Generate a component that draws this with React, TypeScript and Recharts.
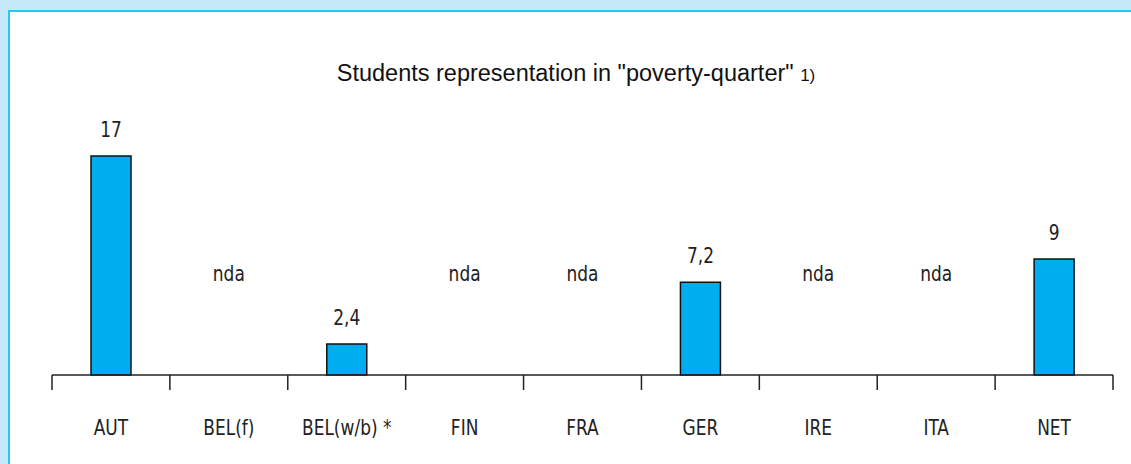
import { Bar, BarChart, LabelList, XAxis, YAxis } from "recharts"

const countries = ["AUT", "BEL(f)", "BEL(w/b) *", "FIN", "FRA", "GER", "IRE", "ITA", "NET"]
const shares: (number | null)[] = [17, null, 2.4, null, null, 7.2, null, null, 9]

const data = countries.map((country, i) => ({ country, share: shares[i] }))

const NARROW = "'Liberation Sans Narrow', 'DejaVu Sans Condensed', 'Roboto', sans-serif"
const INK = "#222"
const SQUEEZE = 0.9

function NarrowText({ x, y, children }: { x: number; y: number; children: React.ReactNode }) {
  return (
    <text
      transform={`translate(${x},${y}) scale(${SQUEEZE},1)`}
      textAnchor="middle"
      fill={INK}
      fontFamily={NARROW}
      fontSize={21}
    >
      {children}
    </text>
  )
}

function CountryTick({
  x,
  y,
  payload,
}: {
  x?: number
  y?: number
  payload?: { value: string; index: number; offset?: number }
}) {
  if (x == null || y == null || !payload) return null
  const half = payload.offset || 1061 / 18
  const missing = shares[payload.index] == null
  const last = payload.index === countries.length - 1
  return (
    <g>
      <line x1={x - half} x2={x - half} y1={y} y2={y + 15} stroke={INK} strokeWidth={1.5} />
      {last && <line x1={x + half} x2={x + half} y1={y} y2={y + 15} stroke={INK} strokeWidth={1.5} />}
      <NarrowText x={x} y={y + 60}>{payload.value}</NarrowText>
      {missing && <NarrowText x={x} y={y - 94}>nda</NarrowText>}
    </g>
  )
}

function ValueLabel({ x, y, width, value }: { x?: number; y?: number; width?: number; value?: number | null }) {
  if (value == null || x == null || y == null || width == null) return null
  return (
    <NarrowText x={x + width / 2} y={y - 19}>
      {String(value).replace(".", ",")}
    </NarrowText>
  )
}

export default function App() {
  return (
    <div style={{ position: "fixed", inset: 0, background: "#C5E9F9", overflow: "hidden" }}>
      <div
        style={{
          position: "absolute",
          left: 8,
          top: 10,
          right: -4,
          bottom: -4,
          background: "#fff",
          borderLeft: "2px solid #2CC3F5",
          borderTop: "2px solid #2CC3F5",
        }}
      />
      <div
        style={{
          position: "absolute",
          left: 0,
          width: 1152,
          top: 60,
          textAlign: "center",
          fontFamily: "'Liberation Sans', Arial, sans-serif",
          fontSize: 23.5,
          color: "#111",
          whiteSpace: "nowrap",
        }}
      >
        Students representation in "poverty-quarter" <span style={{ fontSize: 17 }}>1)</span>
      </div>
      <div style={{ position: "absolute", left: 0, top: 0 }}>
        <BarChart
          width={1131}
          height={464}
          data={data}
          margin={{ top: 156, right: 18, left: 52, bottom: 0 }}
          barCategoryGap={0}
        >
          <YAxis hide domain={[0, 17]} />
          <XAxis
            dataKey="country"
            height={89}
            axisLine={{ stroke: INK, strokeWidth: 1.5 }}
            tickLine={false}
            tickSize={0}
            tickMargin={0}
            interval={0}
            tick={<CountryTick />}
          />
          <Bar
            dataKey="share"
            barSize={40}
            fill="#00AEEF"
            stroke="#111"
            strokeWidth={1.5}
            isAnimationActive={false}
          >
            <LabelList dataKey="share" content={<ValueLabel />} />
          </Bar>
        </BarChart>
      </div>
    </div>
  )
}
